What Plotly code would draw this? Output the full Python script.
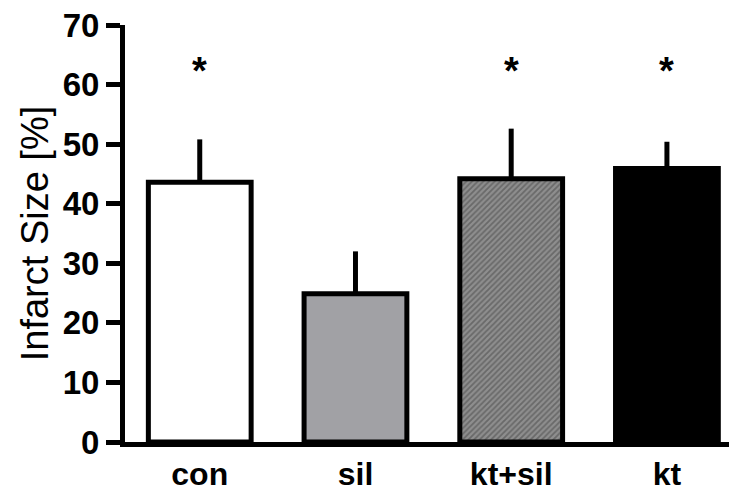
import plotly.graph_objects as go

categories = ["con", "sil", "kt+sil", "kt"]
infarct_size = [43.6, 24.9, 44.2, 45.9]
sem_upper = [7.2, 7.1, 8.4, 4.5]
significant = [True, False, True, True]
y_ticks = [0, 10, 20, 30, 40, 50, 60, 70]
star_level = 62.3

fills = ["white", "#a1a1a5", "#8e8e8e", "black"]
patterns = ["", "", "/", ""]

fig = go.Figure()
fig.add_trace(go.Bar(
    x=categories,
    y=infarct_size,
    width=0.66,
    marker=dict(
        color=fills,
        line=dict(color="black", width=5),
        pattern=dict(shape=patterns, fgcolor="#383838", bgcolor="#9a9a9a",
                     size=4, solidity=0.45),
    ),
    error_y=dict(type="data", symmetric=False, array=sem_upper,
                 arrayminus=[0] * len(sem_upper), color="black",
                 thickness=5, width=0),
    showlegend=False,
))

for c, v, s in zip(categories, infarct_size, significant):
    if s:
        fig.add_annotation(x=c, y=star_level, text="<b>*</b>", showarrow=False,
                           font=dict(size=38, color="black", family="Liberation Sans"),
                           yanchor="middle")

# the page body adds an 8px offset, so the figure is 8px smaller than the window
fig.update_layout(
    width=729, height=483,
    margin=dict(l=117, r=0, t=17, b=49, autoexpand=False),
    paper_bgcolor="white", plot_bgcolor="white",
    font=dict(family="Liberation Sans", color="black"),
)
fig.update_xaxes(
    range=[-0.48, 3.45], automargin=False,
    showline=True, linecolor="black", linewidth=5,
    ticks="", showgrid=False, zeroline=False, ticklabelstandoff=0,
    tickfont=dict(size=32, family="Liberation Sans", color="black", weight="bold"),
)
fig.update_yaxes(
    range=[0, 70], tickvals=y_ticks, automargin=False,
    ticklabeloverflow="allow",
    showline=True, linecolor="black", linewidth=5,
    ticks="outside", ticklen=14, tickwidth=5, tickcolor="black",
    showgrid=False, zeroline=False,
    tickfont=dict(size=33, family="Liberation Sans", color="black", weight="bold"),
    title=dict(text="Infarct Size [%]", standoff=4,
               font=dict(size=38, family="Liberation Sans", color="black")),
)

fig.write_html("out.html")
